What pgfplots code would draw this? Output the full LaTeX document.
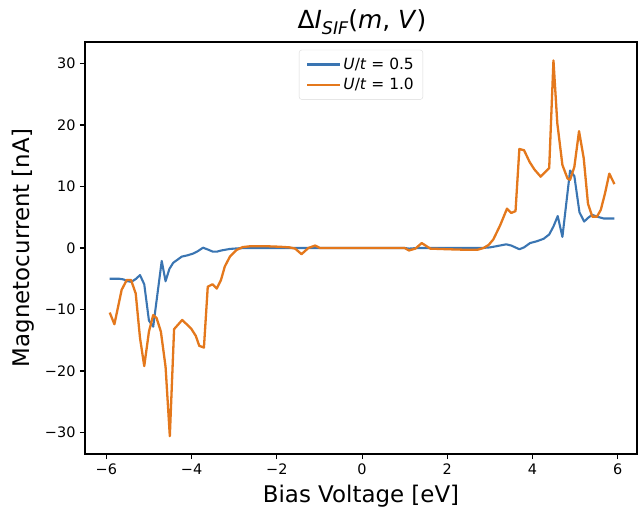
\documentclass[border=0pt]{standalone}
\usepackage{fontspec}
\setmainfont{DejaVu Sans}
\usepackage{pgfplots}
\pgfplotsset{compat=1.18}
\definecolor{mblue}{RGB}{58,117,178}
\definecolor{morange}{RGB}{228,120,28}
\begin{document}
\begin{tikzpicture}
\begin{axis}[
  at={(0,0)}, anchor=south west,
  scale only axis, width=552bp, height=412bp,
  xmin=-6.5, xmax=6.45, ymin=-33.5, ymax=33.5,
  axis line style={line width=1.1bp},
  xtick={-6,-4,-2,0,2,4,6},
  xticklabels={−6,−4,−2,0,2,4,6},
  ytick={-30,-20,-10,0,10,20,30},
  yticklabels={−30,−20,−10,0,10,20,30},
  tick align=outside, xtick pos=bottom, ytick pos=left,
  major tick length=5bp,
  every tick/.style={line width=1.1bp, black},
  tick label style={font=\fontsize{14.5}{17}\selectfont},
  xticklabel style={yshift=-1bp},
  yticklabel style={xshift=-1bp},
  xlabel={Bias Voltage [eV]},
  ylabel={Magnetocurrent [nA]},
  xlabel style={at={(axis description cs:0.5,-0.102)}, anchor=center, font=\fontsize{23}{26}\selectfont},
  ylabel style={at={(axis description cs:-0.112,0.5)}, anchor=center, rotate=0, font=\fontsize{23}{26}\selectfont},
  legend style={at={(axis description cs:0.5,0.981)}, anchor=north, draw=black!15, rounded corners=2.5bp,
    fill=white, fill opacity=0.8, text opacity=1, font=\fontsize{15.5}{18}\selectfont,
    inner xsep=7bp, inner ysep=6bp, row sep=3.5bp},
  legend cell align=left,
  legend image code/.code={\draw[#1] (0bp,0bp) -- (33bp,0bp);},
]
\addplot[color=mblue, line width=2.1bp, no marks, line join=round] coordinates {
(-5.92,-5.0) (-5.8,-5.0) (-5.7,-5.0) (-5.6,-5.1) (-5.5,-5.4) (-5.41,-5.5) (-5.3,-5.0)
(-5.21,-4.4) (-5.11,-5.9) (-5.0,-11.8) (-4.9,-12.8) (-4.7,-2.1) (-4.61,-5.4) (-4.52,-3.4)
(-4.43,-2.4) (-4.33,-1.9) (-4.23,-1.4) (-4.1,-1.2) (-3.96,-0.9) (-3.85,-0.5) (-3.73,0.05)
(-3.6,-0.3) (-3.5,-0.6) (-3.41,-0.6) (-3.3,-0.4) (-3.1,-0.15) (-2.9,-0.05) (-2.7,0)
(-2.0,0) (-1.5,0) (-1.0,0) (0,0) (1.0,0) (1.1,-0.1) (1.3,0) (2.0,0) (2.8,0)
(3.0,0.1) (3.16,0.3) (3.38,0.6) (3.5,0.4) (3.69,-0.2) (3.8,0.1) (3.94,0.8) (4.1,1.1)
(4.26,1.5) (4.39,2.2) (4.49,3.5) (4.59,5.2) (4.70,1.8) (4.88,12.6) (4.98,11.7) (5.10,5.8)
(5.21,4.3) (5.3,4.9) (5.40,5.4) (5.51,5.1) (5.67,4.8) (5.92,4.8)
};
\addlegendentry{\textit{U}/\textit{t} = 0.5}
\addplot[color=morange, line width=2.3bp, no marks, line join=round] coordinates {
(-5.92,-10.5) (-5.81,-12.4) (-5.64,-6.8) (-5.52,-5.2) (-5.42,-5.2) (-5.31,-7.4) (-5.21,-14.6)
(-5.11,-19.2) (-5.0,-13.6) (-4.9,-10.9) (-4.82,-11.4) (-4.72,-13.6) (-4.61,-19.3) (-4.51,-30.6)
(-4.41,-13.2) (-4.22,-11.7) (-4.01,-13.1) (-3.90,-14.3) (-3.82,-15.9) (-3.71,-16.2) (-3.62,-6.3)
(-3.51,-5.9) (-3.41,-6.6) (-3.31,-5.2) (-3.22,-3.0) (-3.1,-1.4) (-2.94,-0.3) (-2.8,0.15)
(-2.6,0.3) (-2.3,0.3) (-1.92,0.2) (-1.7,0.1) (-1.57,-0.1) (-1.42,-1.0) (-1.26,0) (-1.1,0.4)
(-0.99,0) (0,0) (1.0,0) (1.1,-0.4) (1.25,-0.1) (1.40,0.8) (1.6,-0.1) (2.0,-0.2) (2.5,-0.3)
(2.7,-0.3) (2.85,0) (2.97,0.5) (3.08,1.4) (3.24,3.7) (3.40,6.4) (3.50,5.7) (3.60,6.0)
(3.69,16.1) (3.80,15.9) (3.93,14.0) (4.04,12.8) (4.19,11.6) (4.39,13.0) (4.49,30.5) (4.58,20.3)
(4.70,13.5) (4.82,11.3) (4.88,11.1) (4.98,13.2) (5.09,19.0) (5.20,14.6) (5.30,7.2) (5.40,5.1)
(5.51,5.1) (5.60,6.2) (5.70,8.9) (5.80,12.1) (5.92,10.4)
};
\addlegendentry{\textit{U}/\textit{t} = 1.0}
\end{axis}
\node[font=\fontsize{25}{29}\selectfont, anchor=center] at (277bp,432bp)
  {Δ\textit{I}\raisebox{-0.22em}{\fontsize{17.5}{20}\selectfont\textit{SIF}}(\textit{m}, \textit{V})};
\pgfresetboundingbox
\path[use as bounding box] (-85bp,-54bp) rectangle (553bp,454bp);
\end{tikzpicture}
\end{document}
